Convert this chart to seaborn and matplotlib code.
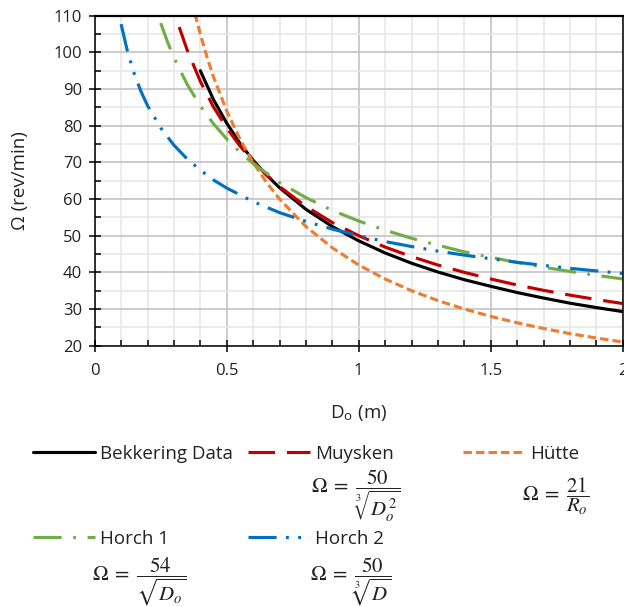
import matplotlib
matplotlib.use("Agg")
import matplotlib.pyplot as plt
import seaborn as sns
import pandas as pd
from matplotlib.ticker import MultipleLocator, FuncFormatter

# ---- data ----
series_names = ["Bekkering Data", "Muysken", "Hütte", "Horch 1", "Horch 2"]

bek_x = [0.4, 0.45, 0.5, 0.55, 0.6, 0.65, 0.7, 0.8, 0.9, 1.0, 1.1, 1.2, 1.3, 1.4, 1.5, 1.6,
         1.7, 1.8, 1.9, 2.0]
bek_y = [95.0, 87.1, 80.7, 75.2, 70.6, 66.6, 63.1, 57.2, 52.5, 48.6, 45.3, 42.5, 40.1, 38.0,
         36.2, 34.5, 33.0, 31.6, 30.4, 29.3]

muy_x = [0.32, 0.35, 0.4, 0.45, 0.5, 0.55, 0.6, 0.65, 0.7, 0.8, 0.9, 1.0, 1.1, 1.2, 1.3, 1.4,
         1.5, 1.6, 1.7, 1.8, 1.9, 2.0]
muy_y = [106.9, 100.7, 92.1, 85.1, 79.4, 74.5, 70.3, 66.6, 63.4, 58.0, 53.6, 50.0, 46.9,
         44.3, 42.0, 40.0, 38.2, 36.55, 35.1, 33.8, 32.6, 31.5]

hut_x = [0.38, 0.4, 0.425, 0.45, 0.5, 0.55, 0.6, 0.65, 0.7, 0.8, 0.9, 1.0, 1.1, 1.2, 1.3,
         1.4, 1.5, 1.6, 1.7, 1.8, 1.9, 2.0]
hut_y = [110.5, 105.0, 98.8, 93.3, 84.0, 76.4, 70.0, 64.6, 60.0, 52.5, 46.7, 42.0, 38.2,
         35.0, 32.3, 30.0, 28.0, 26.25, 24.7, 23.3, 22.1, 21.0]

h1_x = [0.25, 0.275, 0.3, 0.35, 0.4, 0.45, 0.5, 0.55, 0.6, 0.7, 0.8, 0.9, 1.0, 1.1, 1.2, 1.3,
        1.4, 1.5, 1.6, 1.7, 1.8, 1.9, 2.0]
h1_y = [108.0, 103.0, 98.6, 91.3, 85.4, 80.5, 76.4, 72.8, 69.7, 64.5, 60.4, 56.9, 54.0,
        51.5, 49.3, 47.4, 45.6, 44.1, 42.7, 41.4, 40.25, 39.2, 38.2]

h2_x = [0.1, 0.125, 0.15, 0.175, 0.2, 0.25, 0.3, 0.35, 0.4, 0.45, 0.5, 0.6, 0.7, 0.8, 0.9, 1.0,
        1.1, 1.2, 1.3, 1.4, 1.5, 1.6, 1.7, 1.8, 1.9, 2.0]
h2_y = [107.7, 100.0, 94.1, 89.4, 85.5, 79.4, 74.7, 70.95, 67.9, 65.2, 63.0, 59.3, 56.3, 53.9,
        51.8, 50.0, 48.4, 47.05, 45.8, 44.7, 43.7, 42.75, 41.9, 41.1, 40.4, 39.7]

formulas = [
    None,
    r"$\Omega\;=\;\dfrac{50}{\sqrt[3]{D_o^2}}$",
    r"$\Omega\;=\;\dfrac{21}{R_o}$",
    r"$\Omega\;=\;\dfrac{54}{\sqrt{D_o}}$",
    r"$\Omega\;=\;\dfrac{50}{\sqrt[3]{D}}$",
]

xs = [bek_x, muy_x, hut_x, h1_x, h2_x]
ys = [bek_y, muy_y, hut_y, h1_y, h2_y]
rows = []
for name, xv, yv in zip(series_names, xs, ys):
    for a, b in zip(xv, yv):
        rows.append({"series": name, "D": a, "Omega": b})
df = pd.DataFrame(rows)

palette = {"Bekkering Data": "#000000", "Muysken": "#C00000", "Hütte": "#ED7D31",
           "Horch 1": "#70AD47", "Horch 2": "#0070C0"}
dashes = {"Bekkering Data": "", "Muysken": (8.5, 3.8), "Hütte": (2.7, 1.3),
          "Horch 1": (9, 3.7, 0.9, 3.7), "Horch 2": (9, 3, 0.9, 3, 0.9, 3)}

sns.set_theme(style="white")
plt.rcParams["font.family"] = ["Open Sans", "DejaVu Sans"]
plt.rcParams["mathtext.fontset"] = "stix"

W, H = 624, 607
fig = plt.figure(figsize=(W / 100, H / 100), dpi=100)
ax = fig.add_axes([94.7 / W, 1 - 345.7 / H, 528 / W, 330 / H])

sns.lineplot(data=df, x="D", y="Omega", hue="series", style="series",
             hue_order=series_names, style_order=series_names,
             palette=palette, dashes=dashes, linewidth=2.25, sort=False,
             estimator=None, legend=False, ax=ax)
for ln in ax.get_lines():
    ln.set_solid_joinstyle("round")
    ln.set_dash_joinstyle("round")

ax.set_xlim(0, 2)
ax.set_ylim(20, 110)
ax.xaxis.set_major_locator(MultipleLocator(0.5))
ax.xaxis.set_minor_locator(MultipleLocator(0.1))
ax.yaxis.set_major_locator(MultipleLocator(10))
ax.yaxis.set_minor_locator(MultipleLocator(5))
ax.xaxis.set_major_formatter(FuncFormatter(lambda v, p: f"{v:g}"))

ax.grid(which="major", color="#BFBFBF", linewidth=1.1)
ax.grid(which="minor", color="#E6E6E6", linewidth=1.1)
ax.set_axisbelow(True)

ax.tick_params(which="both", bottom=True, left=True, top=False, right=False, color="black")
ax.tick_params(which="major", direction="inout", length=9, width=1.1, labelsize=12,
               labelcolor="#222222")
ax.tick_params(axis="x", which="major", pad=8)
ax.tick_params(axis="y", which="major", pad=4.5)
ax.tick_params(which="minor", direction="in", length=4, width=1.1)

for s in ax.spines.values():
    s.set_color("black")
    s.set_linewidth(1.1)
ax.spines["top"].set_linewidth(1.6)

ax.set_xlabel(r"D$_\mathregular{o}$ (m)", fontsize=13.5, color="#222222")
ax.set_ylabel("Ω (rev/min)", fontsize=13.5, color="#222222")
ax.xaxis.set_label_coords(0.5, -(403 - 345.7) / 330)
ax.yaxis.set_label_coords(-0.125, 0.5)

# legend entries, placed like the reference's grid of entries
lines = ax.get_lines()
fs = 13.5
fs_px = fs * 100 / 72
col_x = [33, 248, 463]
row_y = [454, 539]
positions = [(col_x[0], row_y[0]), (col_x[1], row_y[0]), (col_x[2], row_y[0]),
             (col_x[0], row_y[1]), (col_x[1], row_y[1])]
for ln, name, (px, py) in zip(lines, series_names, positions):
    leg = fig.legend([ln], [name], loc="center left",
                     bbox_to_anchor=(px / W, 1 - py / H), bbox_transform=fig.transFigure,
                     frameon=False, borderpad=0, borderaxespad=0,
                     handlelength=62 / fs_px, handletextpad=5 / fs_px,
                     prop={"size": fs})
    for t in leg.get_texts():
        t.set_color("#222222")

formula_pos = [None, (356, 496), (556, 496), (139, 582), (351, 582)]
for f, pos in zip(formulas, formula_pos):
    if f is None:
        continue
    fig.text(pos[0] / W, 1 - pos[1] / H, f, ha="center", va="center", fontsize=15,
             color="#222222")

fig.savefig("out.png", dpi=100)
